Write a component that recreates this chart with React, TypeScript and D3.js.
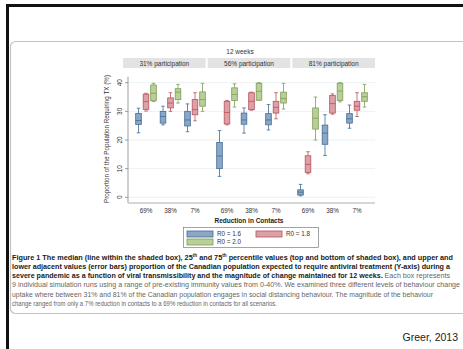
import { useRef, useEffect } from 'react';
import * as d3 from 'd3';

const participation = ['31% participation', '56% participation', '81% participation'];
const reductions = ['69%', '38%', '7%'];
const seriesNames = ['R0 = 1.6', 'R0 = 1.8', 'R0 = 2.0'];
const yTicks = [0, 10, 20, 30, 40];

// [lower adjacent, q1, median, q3, upper adjacent], panel by panel, 69% / 38% / 7%
const r16 = [
    [22.5, 25.4, 26.8, 29.3, 31.1], [25.3, 25.9, 28.2, 30, 31.8], [22.9, 24.9, 27, 30, 32.6],
    [7.3, 10, 14.4, 19.1, 23.3], [22.4, 25.5, 27, 29.4, 31.2], [23.5, 25.3, 27, 29.2, 32.4],
    [0.5, 0.8, 1.8, 2.6, 4.5], [14.6, 18.5, 22.4, 25.2, 28.8], [24.1, 25.9, 27.4, 29.2, 32.2],
];
const r18 = [
    [30.1, 30.7, 33.4, 36, 36.3], [30, 31.2, 32.9, 34.7, 36.5], [26.7, 28.8, 30.6, 34.1, 36.5],
    [25.3, 25.6, 29.6, 33.5, 33.8], [30.4, 30.6, 33.5, 36.5, 36.7], [27.4, 29.4, 31.4, 33.5, 36.5],
    [8.2, 8.7, 11.5, 14.5, 15.9], [29, 29.4, 32.7, 35.5, 36.1], [28.2, 30.4, 31.8, 33.5, 36.5],
];
const r20 = [
    [33.4, 33.7, 36.3, 39.2, 39.8], [32.9, 34.1, 36.7, 37.9, 39.4], [30, 31.8, 34.1, 36.8, 39.8],
    [31.5, 33.8, 35.9, 38.2, 39.6], [33.9, 33.9, 37, 39.8, 40], [30.8, 32.9, 34.5, 36.7, 39.8],
    [20, 23.8, 27.6, 31.2, 35], [33.3, 33.8, 37.1, 39.8, 40], [31.5, 33.5, 35.1, 36.5, 39.4],
];
const seriesData = [r16, r18, r20];

const fills = ['#8ba7c4', '#dca1a8', '#b8cf9a'];
const strokes = ['#3f6c98', '#b9505a', '#7d9c52'];

const font = '"Liberation Sans", Arial, sans-serif';

export default function App() {
    const svgRef = useRef<SVGSVGElement>(null);

    useEffect(() => {
        if (!svgRef.current) return;
        const width = 463;
        const height = 349;

        d3.select(svgRef.current).selectAll('*').remove();
        const svg = d3.select(svgRef.current)
            .attr('width', width)
            .attr('height', height)
            .style('font-family', font);

        svg.append('rect').attr('width', width).attr('height', height).attr('fill', '#fff');

        // Frame
        svg.append('rect').attr('x', 6).attr('y', 4).attr('width', 3).attr('height', height - 4).attr('fill', '#111');
        svg.append('rect').attr('x', 6).attr('y', 4).attr('width', width - 6).attr('height', 3).attr('fill', '#111');
        svg.append('rect')
            .attr('x', 10.5).attr('y', 41.5).attr('width', 470).attr('height', 272).attr('rx', 5)
            .attr('fill', 'none').attr('stroke', '#c4c4c4').attr('stroke-width', 1.2);

        // Scales
        const y = d3.scaleLinear().domain([0, 40]).range([197.3, 82.7]);
        const panel = d3.scaleBand().domain(participation).range([128, 371]);
        const group = d3.scalePoint().domain(reductions).range([18, 67]);
        const offset = d3.scalePoint().domain(seriesNames).range([-7.5, 7.5]);
        const strip = d3.scaleBand().domain(participation).range([123, 375]).paddingInner(0.024);

        // Title
        svg.append('text').attr('x', 240).attr('y', 54).attr('text-anchor', 'middle')
            .attr('fill', '#333').style('font-size', '6.5px').text('12 weeks');

        // Strips
        participation.forEach(p => {
            svg.append('rect').attr('x', strip(p)!).attr('y', 58).attr('width', strip.bandwidth()).attr('height', 10)
                .attr('fill', '#e3e3e3');
            svg.append('text').attr('x', strip(p)! + strip.bandwidth() / 2).attr('y', 65.5)
                .attr('text-anchor', 'middle').attr('fill', '#333').style('font-size', '6.5px').text(p);
        });

        // Grid lines
        yTicks.forEach(t => {
            svg.append('line').attr('x1', 128).attr('x2', 375).attr('y1', y(t)).attr('y2', y(t))
                .attr('stroke', '#e6eff2').attr('stroke-width', 0.8);
        });

        // Y axis
        svg.append('line').attr('x1', 128).attr('x2', 128).attr('y1', y(42.1)).attr('y2', y(-2))
            .attr('stroke', '#777').attr('stroke-width', 0.7);
        yTicks.forEach(t => {
            svg.append('line').attr('x1', 125).attr('x2', 128).attr('y1', y(t)).attr('y2', y(t))
                .attr('stroke', '#777').attr('stroke-width', 0.7);
            svg.append('text')
                .attr('transform', `translate(122,${y(t)}) rotate(-90)`)
                .attr('text-anchor', 'middle').attr('fill', '#333').style('font-size', '6.5px').text(t);
        });
        svg.append('text')
            .attr('transform', `translate(109,139) rotate(-90)`)
            .attr('text-anchor', 'middle').attr('fill', '#333').style('font-size', '6.3px')
            .text('Proportion of the Population Requiring TX (%)');

        // X axis
        svg.append('line').attr('x1', 128).attr('x2', 375).attr('y1', 203).attr('y2', 203)
            .attr('stroke', '#c8c8c8').attr('stroke-width', 1.6);

        participation.forEach((p, pi) => {
            reductions.forEach((r, ri) => {
                const cx = panel(p)! + group(r)!;
                svg.append('text').attr('x', cx).attr('y', 212.5).attr('text-anchor', 'middle')
                    .attr('fill', '#333').style('font-size', '6.3px').text(r);
                seriesNames.forEach((s, si) => {
                    const [lo, q1, med, q3, hi] = seriesData[si][pi * 3 + ri];
                    const x = cx + offset(s)!;
                    const bw = 5.6;
                    const g = svg.append('g').attr('stroke', strokes[si]).attr('stroke-width', 0.8);
                    g.append('line').attr('x1', x).attr('x2', x).attr('y1', y(hi)).attr('y2', y(q3));
                    g.append('line').attr('x1', x).attr('x2', x).attr('y1', y(q1)).attr('y2', y(lo));
                    g.append('line').attr('x1', x - 1.8).attr('x2', x + 1.8).attr('y1', y(hi)).attr('y2', y(hi));
                    g.append('line').attr('x1', x - 1.8).attr('x2', x + 1.8).attr('y1', y(lo)).attr('y2', y(lo));
                    g.append('rect').attr('x', x - bw / 2).attr('y', y(q3)).attr('width', bw)
                        .attr('height', Math.max(0.5, y(q1) - y(q3))).attr('fill', fills[si]);
                    g.append('line').attr('x1', x - bw / 2).attr('x2', x + bw / 2).attr('y1', y(med)).attr('y2', y(med));
                });
            });
        });

        svg.append('text').attr('x', 249).attr('y', 223).attr('text-anchor', 'middle')
            .attr('fill', '#222').style('font-size', '6.5px').style('font-weight', 'bold')
            .text('Reduction in Contacts');

        // Legend
        svg.append('rect').attr('x', 183.5).attr('y', 227.5).attr('width', 135).attr('height', 20)
            .attr('fill', '#fff').attr('stroke', '#666').attr('stroke-width', 0.6);
        const legendPos = [[187, 231], [256, 231], [187, 239]];
        seriesNames.forEach((s, i) => {
            const [lx, ly] = legendPos[i];
            svg.append('rect').attr('x', lx).attr('y', ly).attr('width', 26).attr('height', 6)
                .attr('fill', fills[i]).attr('stroke', strokes[i]).attr('stroke-width', 0.8);
            svg.append('text').attr('x', lx + 30).attr('y', ly + 5.3).attr('fill', '#333')
                .style('font-size', '6.3px').text(s);
        });

        // Caption
        const cap = svg.append('g').style('font-size', '7px');
        const lineY = [259.5, 268.8, 278.1, 287.4, 296.7, 306];
        const l1 = cap.append('text').attr('x', 12).attr('y', lineY[0]).attr('fill', '#1a1a1a')
            .style('font-weight', 'bold').attr('textLength', 441).attr('lengthAdjust', 'spacingAndGlyphs');
        l1.append('tspan').text('Figure 1 The median (line within the shaded box), 25');
        l1.append('tspan').attr('dy', -2.5).style('font-size', '4.5px').text('th');
        l1.append('tspan').attr('dy', 2.5).text(' and 75');
        l1.append('tspan').attr('dy', -2.5).style('font-size', '4.5px').text('th');
        l1.append('tspan').attr('dy', 2.5).text(' percentile values (top and bottom of shaded box), and upper and');

        cap.append('text').attr('x', 12).attr('y', lineY[1]).attr('fill', '#1a1a1a')
            .style('font-weight', 'bold').attr('textLength', 438).attr('lengthAdjust', 'spacingAndGlyphs')
            .text('lower adjacent values (error bars) proportion of the Canadian population expected to require antiviral treatment (Y-axis) during a');

        const l3 = cap.append('text').attr('x', 12).attr('y', lineY[2])
            .attr('textLength', 438).attr('lengthAdjust', 'spacingAndGlyphs');
        l3.append('tspan').attr('fill', '#1a1a1a').style('font-weight', 'bold')
            .text('severe pandemic as a function of viral transmissibility and the magnitude of change maintained for 12 weeks.');
        l3.append('tspan').attr('fill', '#666').text(' Each box represents');

        const plain = [
            ['9 individual simulation runs using a range of pre-existing immunity values from 0-40%. We examined three different levels of behaviour change', 448],
            ['uptake where between 31% and 81% of the Canadian population engages in social distancing behaviour. The magnitude of the behaviour', 421],
            ['change ranged from only a 7% reduction in contacts to a 69% reduction in contacts for all scenarios.', 265],
        ] as const;
        plain.forEach(([t, w], i) => {
            cap.append('text').attr('x', 12).attr('y', lineY[3 + i]).attr('fill', '#666')
                .attr('textLength', w).attr('lengthAdjust', 'spacingAndGlyphs').text(t);
        });

        svg.append('text').attr('x', 458).attr('y', 341).attr('text-anchor', 'end')
            .attr('fill', '#222').style('font-size', '10.5px').text('Greer, 2013');
    }, []);

    return (
        <div style={{ position: 'absolute', left: 0, top: 0 }}>
            <svg ref={svgRef}></svg>
        </div>
    );
}
